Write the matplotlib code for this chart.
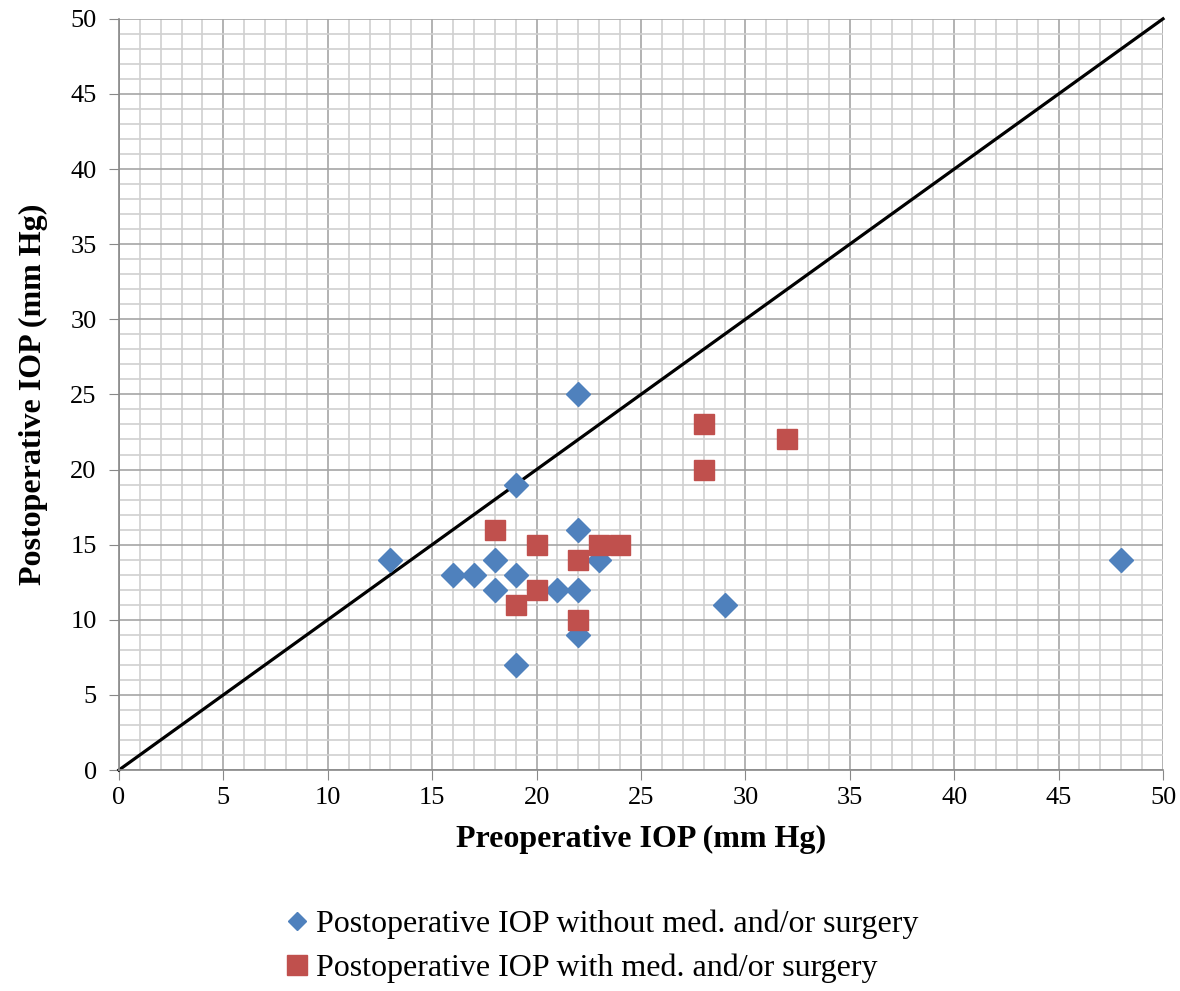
import numpy as np
import matplotlib.pyplot as plt
from matplotlib.lines import Line2D

plt.rcParams['font.family'] = ['Liberation Serif', 'DejaVu Serif']

# postoperative IOP without med. and/or surgery
pre_no = [13, 16, 17, 18, 18, 19, 19, 19, 21, 22, 22, 22, 22, 23, 29, 48]
post_no = [14, 13, 13, 14, 12, 13, 19, 7, 12, 12, 16, 25, 9, 14, 11, 14]

# postoperative IOP with med. and/or surgery
pre_med = [18, 20, 20, 19, 22, 22, 23, 24, 28, 28, 32]
post_med = [16, 15, 12, 11, 14, 10, 15, 15, 23, 20, 22]

ticks = list(range(0, 51, 5))
blue = '#4F81BD'
red = '#C0504D'

fig = plt.figure(figsize=(11.8, 9.91), dpi=100)
ax = fig.add_axes([0.1008, 0.223, 0.8848, 0.758])

ax.set_xlim(0, 50)
ax.set_ylim(0, 50)
ax.set_xticks(ticks)
ax.set_yticks(ticks)
ax.set_xticks(range(0, 51), minor=True)
ax.set_yticks(range(0, 51), minor=True)
ax.grid(which='minor', color='#d0d0d0', lw=1.2)
ax.grid(which='major', color='#a6a6a6', lw=1.2)
ax.set_axisbelow(True)
ax.tick_params(which='minor', length=0)
ax.tick_params(which='major', direction='out', length=7, color='#888888',
               labelsize=19, pad=5)
ax.tick_params(axis='y', pad=9)
for s in ['top', 'right']:
    ax.spines[s].set_visible(False)
for s in ['left', 'bottom']:
    ax.spines[s].set_color('#888888')
    ax.spines[s].set_linewidth(1.2)

# identity line y = x
ax.plot([0, 50], [0, 50], color='black', lw=2.3, clip_on=False, zorder=2)
ax.plot(pre_no, post_no, 'D', color=blue, markersize=12.5, zorder=3)
ax.plot(pre_med, post_med, 's', color=red, markersize=15, zorder=4)

ax.set_xlabel('Preoperative IOP (mm Hg)', fontsize=23, fontweight='bold', labelpad=12)
ax.set_ylabel('Postoperative IOP (mm Hg)', fontsize=23, fontweight='bold', labelpad=16)

handles = [Line2D([], [], ls='none', marker='D', color=blue, markersize=9),
           Line2D([], [], ls='none', marker='s', color=red, markersize=15)]
labels = ['Postoperative IOP without med. and/or surgery',
          'Postoperative IOP with med. and/or surgery']
fig.legend(handles, labels, loc='upper left', bbox_to_anchor=(0.211, 0.111),
           frameon=False, fontsize=23, handletextpad=0.0, handlelength=1.2,
           labelspacing=0.45, bbox_transform=fig.transFigure)

fig.savefig('out.png', dpi=100)
